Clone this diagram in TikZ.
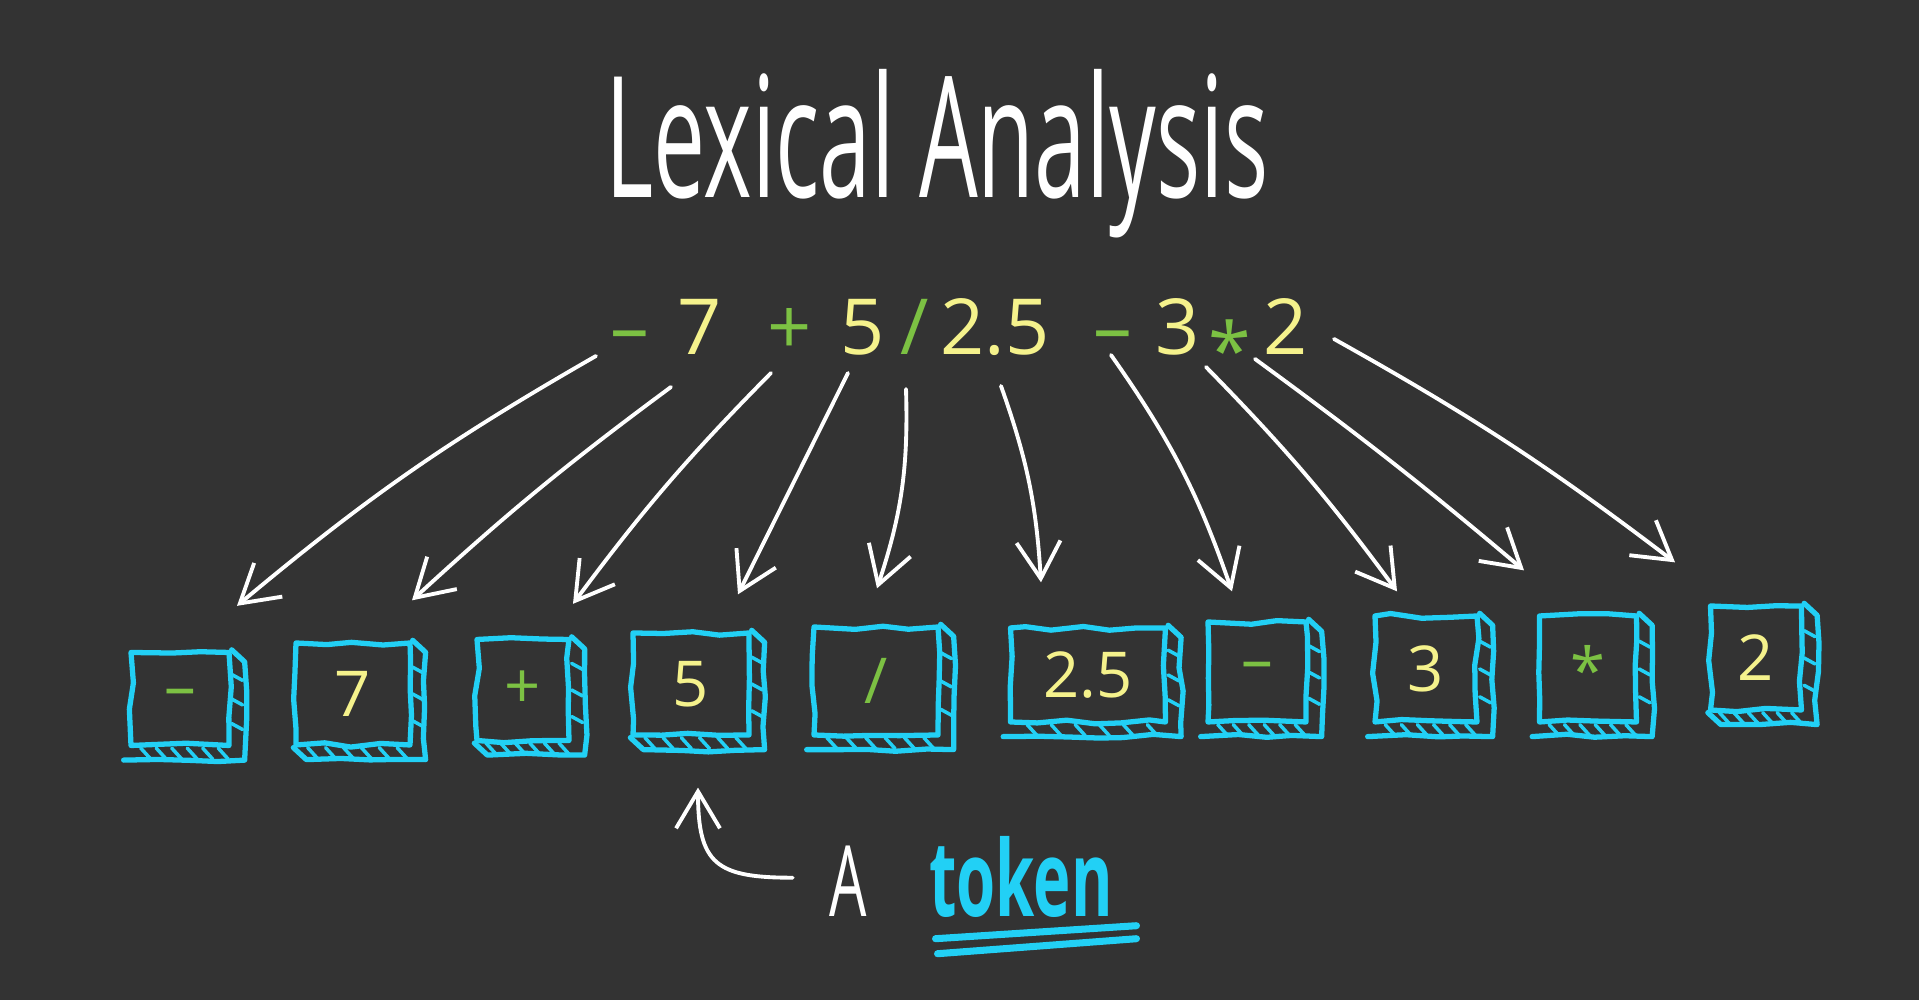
\documentclass[tikz,border=0pt]{standalone}
\usepackage{fontspec}
\setmainfont{Open Sans}
\newfontfamily\handfont[FakeStretch=0.6]{Open Sans}
\newfontfamily\headfont[FakeStretch=0.55]{Open Sans}
\usetikzlibrary{arrows.meta, calc, decorations.pathmorphing}
\definecolor{cbg}{HTML}{333333}
\definecolor{ccyan}{HTML}{22D0F5}
\definecolor{cyellow}{HTML}{F5F28C}
\definecolor{cgreen}{HTML}{7CC143}
\tikzset{
  every picture/.style={line cap=round, line join=round},
  sketch/.style={decorate, decoration={random steps, segment length=8pt, amplitude=0.7pt}},
  tokbox/.style={draw=ccyan, line width=1.5pt, sketch, inner sep=0pt, font=\fontsize{18}{20}\selectfont},
  face/.style={draw=ccyan, line width=1.5pt, sketch},
  hatch/.style={draw=ccyan, line width=1pt},
  chr/.style={font=\fontsize{22}{24}\selectfont, inner sep=0pt, anchor=base},
  title/.style={font=\headfont\fontsize{48}{50}\selectfont, text=white, inner sep=0pt, anchor=base},
  lbl/.style={font=\handfont\fontsize{28}{30}\selectfont, text=white, inner sep=0pt, anchor=base},
  arrow/.style={-{Straight Barb[length=10.5pt, width=12.5pt]}, draw=white, line width=1.1pt},
  ul/.style={draw=ccyan, line width=2pt},
}

\begin{document}
\begin{tikzpicture}
  \pgfmathsetseed{12}
  \fill[cbg] (0,0) rectangle (19.19,10);
  \useasboundingbox (0,0) rectangle (19.19,10);
  % heading
  \node[title] (head) at (9.37,8.02) {Lexical Analysis};
  % the source text, one character at a time
  \foreach \i/\x/\txt/\col in {1/6.30/\textendash/cgreen, 2/7.00/7/cyellow, 3/7.90/+/cgreen, 4/8.63/5/cyellow, 5/9.15/{/}/cgreen, 6/9.95/2.5/cyellow, 7/11.13/\textendash/cgreen, 8/11.78/3/cyellow, 9/12.30/{\raisebox{-0.3em}{*}}/cgreen, 10/12.86/2/cyellow} {
    \node[chr, text=\col] (e\i) at (\x,6.45) {\txt};
  }
  % tokens: front face, side face and hatched bottom
  \foreach \i/\x/\y/\w/\h/\txt/\col in {1/1.80/3.01/0.98/0.93/\textendash/cgreen, 2/3.53/3.06/1.14/1.02/7/cyellow, 3/5.23/3.10/0.92/1.01/+/cgreen, 4/6.91/3.16/1.16/1.02/5/cyellow, 5/8.76/3.19/1.24/1.08/{/}/cgreen, 6/10.88/3.25/1.55/0.94/2.5/cyellow, 7/12.57/3.28/0.98/1.00/\textendash/cgreen, 8/14.26/3.31/1.02/1.06/3/cyellow, 9/15.88/3.31/0.97/1.06/{\raisebox{-0.25em}{*}}/cgreen, 10/17.56/3.42/0.91/1.04/2/cyellow} {
    \node[tokbox, text=\col, minimum width=\w cm, minimum height=\h cm] (t\i) at (\x,\y) {\txt};
    \draw[face] (t\i.north east) -- ++(0.13,-0.12) -- ($(t\i.south east)+(0.13,-0.12)$) -- ($(t\i.south west)+(0.13,-0.12)$) -- (t\i.south west);
    \foreach \f in {0.12,0.27,0.42,0.57,0.72,0.87}
      \draw[hatch] ($(t\i.south west)!\f!(t\i.south east)$) -- ++(0.10,-0.11);
    \foreach \f in {0.25,0.5,0.75}
      \draw[hatch] ($(t\i.north east)!\f!(t\i.south east)$) -- ++(0.11,-0.06);
  }
  % arrows from the text down to the tokens
  \foreach \i/\sx/\sy/\ex/\ey/\b in {1/-0.34/-0.01/0.57/0.44/-5, 2/-0.29/-0.32/0.59/0.40/-3, 3/-0.19/-0.18/0.50/0.33/-4, 4/-0.15/-0.18/0.47/0.36/0, 5/-0.09/-0.34/0.01/0.36/10, 6/0.06/-0.31/-0.47/0.43/8, 7/-0.02/0/-0.25/0.28/8, 8/0.28/-0.12/-0.29/0.22/4, 9/0.25/-0.04/-0.64/0.43/2, 10/0.48/0.16/-0.81/0.41/4} {
    \draw[arrow] ($(e\i.base)+(\sx,\sy)$) to[bend left=\b] ($(t\i.north)+(\ex,\ey)$);
  }
  % note
  \node[lbl] (a) at (8.48,0.83) {A};
  \node[lbl, text=ccyan, font=\handfont\bfseries\fontsize{30}{32}\selectfont] (tok) at (10.21,0.83) {token};
  \draw[ul] ($(tok.south west)+(0.07,-0.20)$) -- ($(tok.south east)+(0.23,-0.07)$);
  \draw[ul] ($(tok.south west)+(0.09,-0.35)$) -- ($(tok.south east)+(0.23,-0.20)$);
  \draw[arrow] ($(a.west)+(-0.36,0.04)$) to[out=180, in=-90, looseness=1.5] ($(t4.south)+(0.07,-0.50)$);
\end{tikzpicture}
\end{document}
